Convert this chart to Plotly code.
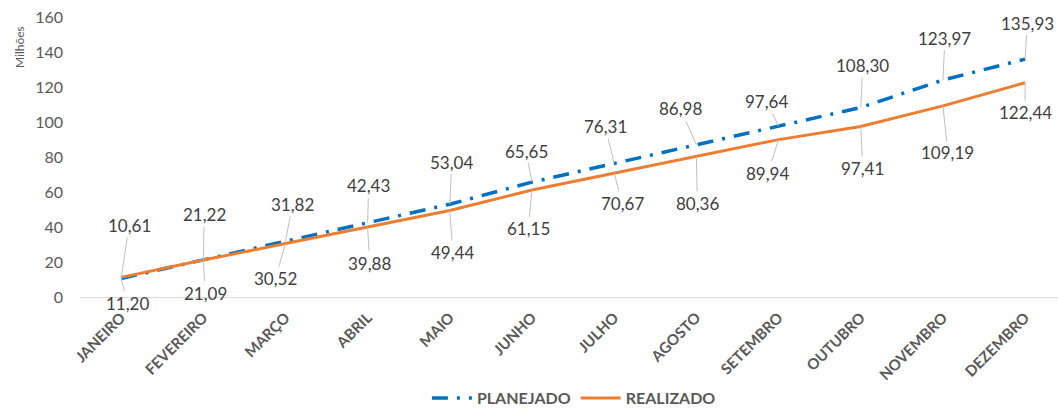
import plotly.graph_objects as go

meses = ["JANEIRO", "FEVEREIRO", "MARÇO", "ABRIL", "MAIO", "JUNHO", "JULHO",
         "AGOSTO", "SETEMBRO", "OUTUBRO", "NOVEMBRO", "DEZEMBRO"]
planejado = [10.61, 21.22, 31.82, 42.43, 53.04, 65.65, 76.31, 86.98, 97.64, 108.30, 123.97, 135.93]
realizado = [11.20, 21.09, 30.52, 39.88, 49.44, 61.15, 70.67, 80.36, 89.94, 97.41, 109.19, 122.44]
y_ticks = [0, 20, 40, 60, 80, 100, 120, 140, 160]

# label offsets in pixels (label centre relative to point)
off_plan = [(8, -53), (1, -45), (7, -37), (1, -37), (2, -42), (-6, -31), (-9, -37),
            (-16, -36), (-12, -25), (2, -42), (2, -42), (2, -36)]
off_real = [(6, 26), (2, 33), (-10, 35), (2, 36), (3, 42), (-4, 39), (8, 30),
            (1, 47), (-11, 34), (2, 42), (5, 47), (0, 30)]

BLUE = "#0070C0"
ORANGE = "#ED7D31"
GRAY = "#595959"
FONT = "Lato, Liberation Sans, sans-serif"

L, T, W, H = 80, 17, 978, 280

def fmt(v):
    return f"{v:.2f}".replace(".", ",")

xs = list(range(len(meses)))

fig = go.Figure()
fig.add_trace(go.Scatter(x=xs, y=planejado, mode="lines", name="PLANEJADO",
                         line=dict(color=BLUE, width=3.5, dash="16px,9px,3px,9px")))
fig.add_trace(go.Scatter(x=xs, y=realizado, mode="lines", name="REALIZADO",
                         line=dict(color=ORANGE, width=3)))

annotations = []
for series, offs in ((planejado, off_plan), (realizado, off_real)):
    for i, v in enumerate(series):
        dx, dy = offs[i]
        annotations.append(dict(x=xs[i], y=v, xref="x", yref="y", text=fmt(v), showarrow=True,
                                ax=dx, ay=dy, arrowhead=0, arrowwidth=1, arrowcolor="#BFBFBF",
                                standoff=0, font=dict(size=17, color="#404040", family=FONT)))
annotations.append(dict(xref="paper", yref="paper", x=(20 - L) / W, y=(T + H - 47) / H,
                        xanchor="center", yanchor="middle", text="Milhões",
                        showarrow=False, textangle=-90,
                        font=dict(size=12, color=GRAY, family=FONT)))

fig.update_layout(
    width=1058, height=417,
    margin=dict(l=L, r=0, t=T, b=417 - T - H, autoexpand=False),
    paper_bgcolor="white", plot_bgcolor="white",
    font=dict(family=FONT, color=GRAY),
    showlegend=True,
    legend=dict(orientation="h", x=0.505, xanchor="center", y=-(417 - T - H - 2) / H, yanchor="bottom",
                font=dict(size=16, color=GRAY, family=FONT, weight="bold"),
                itemwidth=40),
    annotations=annotations,
    xaxis=dict(range=[-0.5, 11.4], tickmode="array", tickvals=xs, ticktext=meses,
               tickangle=-45, showgrid=False, zeroline=False, showline=True, automargin=False,
               linecolor="#D9D9D9", linewidth=1, ticks="", ticklabelstandoff=5,
               tickfont=dict(size=15, color=GRAY, family=FONT, weight="bold")),
    yaxis=dict(range=[0, 160], tickmode="array", tickvals=y_ticks, showgrid=False, automargin=False,
               zeroline=False, showline=False, ticks="", ticklabelstandoff=16,
               tickfont=dict(size=16, color=GRAY, family=FONT)),
)

fig.write_html("out.html", config={"displayModeBar": False},
               post_script="document.body.style.margin='0px';document.body.style.overflow='hidden';")
